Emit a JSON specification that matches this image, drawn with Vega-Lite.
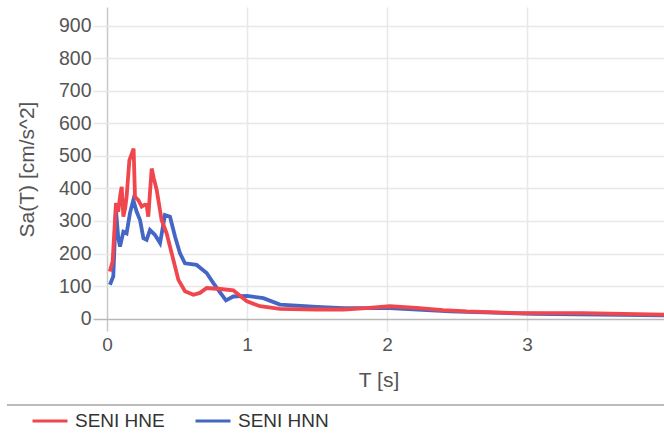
{
  "$schema": "https://vega.github.io/schema/vega-lite/v6.json",
  "width": 571,
  "height": 324,
  "autosize": {"type": "none"},
  "padding": {"left": 93, "top": 7, "right": 0, "bottom": 103},
  "background": "white",
  "config": {
    "view": {"stroke": null},
    "font": "Liberation Sans"
  },
  "data": {
    "values": [
      {"s": "SENI HNN", "T": 0.021, "Sa": 104},
      {"s": "SENI HNN", "T": 0.045, "Sa": 130},
      {"s": "SENI HNN", "T": 0.064, "Sa": 334},
      {"s": "SENI HNN", "T": 0.08, "Sa": 250},
      {"s": "SENI HNN", "T": 0.093, "Sa": 221},
      {"s": "SENI HNN", "T": 0.117, "Sa": 267},
      {"s": "SENI HNN", "T": 0.14, "Sa": 262},
      {"s": "SENI HNN", "T": 0.164, "Sa": 324},
      {"s": "SENI HNN", "T": 0.188, "Sa": 364},
      {"s": "SENI HNN", "T": 0.212, "Sa": 328},
      {"s": "SENI HNN", "T": 0.236, "Sa": 303},
      {"s": "SENI HNN", "T": 0.26, "Sa": 247},
      {"s": "SENI HNN", "T": 0.283, "Sa": 242},
      {"s": "SENI HNN", "T": 0.307, "Sa": 272},
      {"s": "SENI HNN", "T": 0.343, "Sa": 257},
      {"s": "SENI HNN", "T": 0.379, "Sa": 232},
      {"s": "SENI HNN", "T": 0.414, "Sa": 318},
      {"s": "SENI HNN", "T": 0.45, "Sa": 313},
      {"s": "SENI HNN", "T": 0.486, "Sa": 252},
      {"s": "SENI HNN", "T": 0.521, "Sa": 201},
      {"s": "SENI HNN", "T": 0.557, "Sa": 170},
      {"s": "SENI HNN", "T": 0.64, "Sa": 165},
      {"s": "SENI HNN", "T": 0.712, "Sa": 140},
      {"s": "SENI HNN", "T": 0.76, "Sa": 109},
      {"s": "SENI HNN", "T": 0.81, "Sa": 79},
      {"s": "SENI HNN", "T": 0.85, "Sa": 56},
      {"s": "SENI HNN", "T": 0.902, "Sa": 68},
      {"s": "SENI HNN", "T": 1.0, "Sa": 70},
      {"s": "SENI HNN", "T": 1.117, "Sa": 63},
      {"s": "SENI HNN", "T": 1.236, "Sa": 43},
      {"s": "SENI HNN", "T": 1.5, "Sa": 36},
      {"s": "SENI HNN", "T": 1.69, "Sa": 32},
      {"s": "SENI HNN", "T": 2.02, "Sa": 32},
      {"s": "SENI HNN", "T": 2.45, "Sa": 22},
      {"s": "SENI HNN", "T": 3.04, "Sa": 15},
      {"s": "SENI HNN", "T": 3.98, "Sa": 10},
      {"s": "SENI HNE", "T": 0.02, "Sa": 145},
      {"s": "SENI HNE", "T": 0.04, "Sa": 175},
      {"s": "SENI HNE", "T": 0.064, "Sa": 355},
      {"s": "SENI HNE", "T": 0.08, "Sa": 328},
      {"s": "SENI HNE", "T": 0.095, "Sa": 380},
      {"s": "SENI HNE", "T": 0.105, "Sa": 405},
      {"s": "SENI HNE", "T": 0.117, "Sa": 313},
      {"s": "SENI HNE", "T": 0.13, "Sa": 340},
      {"s": "SENI HNE", "T": 0.14, "Sa": 374},
      {"s": "SENI HNE", "T": 0.16, "Sa": 487},
      {"s": "SENI HNE", "T": 0.176, "Sa": 505},
      {"s": "SENI HNE", "T": 0.19, "Sa": 522},
      {"s": "SENI HNE", "T": 0.2, "Sa": 374},
      {"s": "SENI HNE", "T": 0.224, "Sa": 364},
      {"s": "SENI HNE", "T": 0.248, "Sa": 344},
      {"s": "SENI HNE", "T": 0.27, "Sa": 350},
      {"s": "SENI HNE", "T": 0.283, "Sa": 349},
      {"s": "SENI HNE", "T": 0.295, "Sa": 313},
      {"s": "SENI HNE", "T": 0.319, "Sa": 461},
      {"s": "SENI HNE", "T": 0.335, "Sa": 430},
      {"s": "SENI HNE", "T": 0.355, "Sa": 395},
      {"s": "SENI HNE", "T": 0.39, "Sa": 303},
      {"s": "SENI HNE", "T": 0.426, "Sa": 262},
      {"s": "SENI HNE", "T": 0.462, "Sa": 201},
      {"s": "SENI HNE", "T": 0.51, "Sa": 119},
      {"s": "SENI HNE", "T": 0.557, "Sa": 84},
      {"s": "SENI HNE", "T": 0.617, "Sa": 73},
      {"s": "SENI HNE", "T": 0.664, "Sa": 79},
      {"s": "SENI HNE", "T": 0.712, "Sa": 94},
      {"s": "SENI HNE", "T": 0.81, "Sa": 91},
      {"s": "SENI HNE", "T": 0.902, "Sa": 87},
      {"s": "SENI HNE", "T": 0.95, "Sa": 70},
      {"s": "SENI HNE", "T": 1.0, "Sa": 53},
      {"s": "SENI HNE", "T": 1.093, "Sa": 38},
      {"s": "SENI HNE", "T": 1.236, "Sa": 30},
      {"s": "SENI HNE", "T": 1.5, "Sa": 28},
      {"s": "SENI HNE", "T": 1.69, "Sa": 28},
      {"s": "SENI HNE", "T": 1.85, "Sa": 32},
      {"s": "SENI HNE", "T": 2.02, "Sa": 38},
      {"s": "SENI HNE", "T": 2.21, "Sa": 33},
      {"s": "SENI HNE", "T": 2.4, "Sa": 26},
      {"s": "SENI HNE", "T": 2.57, "Sa": 22},
      {"s": "SENI HNE", "T": 2.93, "Sa": 17},
      {"s": "SENI HNE", "T": 3.4, "Sa": 17},
      {"s": "SENI HNE", "T": 3.98, "Sa": 12}
    ]
  },
  "layer": [
    {
      "mark": {"type": "rule", "clip": false, "color": "#bbbbbb", "strokeWidth": 1.5},
      "encoding": {
        "x": {
          "datum": -0.71, "type": "quantitative",
          "scale": {"domain": [-0.1, 3.979], "nice": false, "zero": false},
          "axis": {
            "values": [0, 1, 2, 3],
            "format": "d",
            "labelOverlap": false,
            "title": "T [s]",
            "titleFontSize": 21, "titleFontWeight": "normal", "titleColor": "#555",
            "titlePadding": 15,
            "labelFontSize": 19, "labelColor": "#555",
            "labelPadding": 4,
            "ticks": false, "domain": false,
            "grid": true,
            "gridColor": {"condition": {"test": "datum.value === 0", "value": "#c8c8c8"}, "value": "#e8e8e8"},
            "gridWidth": 1.5
          }
        },
        "x2": {"datum": 3.98},
        "y": {
          "datum": -265, "type": "quantitative",
          "scale": {"domain": [-38, 957], "nice": false, "zero": false},
          "axis": {
            "values": [0, 100, 200, 300, 400, 500, 600, 700, 800, 900],
            "format": "d",
            "labelOverlap": false,
            "title": "Sa(T) [cm/s^2]",
            "titleFontSize": 21, "titleFontWeight": "normal", "titleColor": "#555",
            "titlePadding": 21,
            "labelFontSize": 19.5, "labelColor": "#555",
            "labelPadding": 2,
            "ticks": false, "domain": false,
            "grid": true,
            "gridColor": {"condition": {"test": "datum.value === 0", "value": "#b8b8b8"}, "value": "#e8e8e8"},
            "gridWidth": 1.5
          }
        }
      }
    },
    {
      "mark": {"type": "line", "strokeWidth": 3.8, "clip": true},
      "encoding": {
        "x": {
          "field": "T", "type": "quantitative",
          "scale": {"domain": [-0.1, 3.979], "nice": false, "zero": false},
          "axis": {
            "values": [0, 1, 2, 3],
            "format": "d",
            "labelOverlap": false,
            "title": "T [s]",
            "titleFontSize": 21, "titleFontWeight": "normal", "titleColor": "#555",
            "titlePadding": 15,
            "labelFontSize": 19, "labelColor": "#555",
            "labelPadding": 4,
            "ticks": false, "domain": false,
            "grid": true,
            "gridColor": {"condition": {"test": "datum.value === 0", "value": "#c8c8c8"}, "value": "#e8e8e8"},
            "gridWidth": 1.5
          }
        },
        "y": {
          "field": "Sa", "type": "quantitative",
          "scale": {"domain": [-38, 957], "nice": false, "zero": false},
          "axis": {
            "values": [0, 100, 200, 300, 400, 500, 600, 700, 800, 900],
            "format": "d",
            "labelOverlap": false,
            "title": "Sa(T) [cm/s^2]",
            "titleFontSize": 21, "titleFontWeight": "normal", "titleColor": "#555",
            "titlePadding": 21,
            "labelFontSize": 19.5, "labelColor": "#555",
            "labelPadding": 2,
            "ticks": false, "domain": false,
            "grid": true,
            "gridColor": {"condition": {"test": "datum.value === 0", "value": "#b8b8b8"}, "value": "#e8e8e8"},
            "gridWidth": 1.5
          }
        },
        "color": {
          "field": "s", "type": "nominal",
          "scale": {"domain": ["SENI HNE", "SENI HNN"], "range": ["#ef474d", "#4466c4"]},
          "legend": {
            "title": null,
            "orient": "none",
            "direction": "horizontal",
            "legendX": -62,
            "legendY": 395,
            "padding": 0,
            "symbolType": "stroke",
            "symbolSize": 1225,
            "symbolStrokeWidth": 3,
            "labelFontSize": 19, "labelColor": "#333",
            "labelOffset": 6,
            "columnPadding": 24
          }
        }
      }
    }
  ]
}
